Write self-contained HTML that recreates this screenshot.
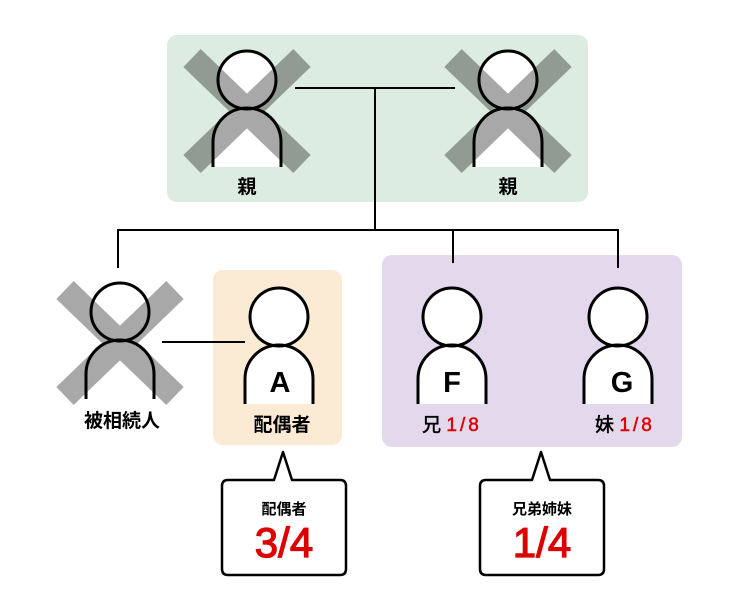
<!DOCTYPE html>
<html><head><meta charset="utf-8"><style>
body{margin:0;background:#fff;}
svg{display:block;font-family:"Liberation Sans","Noto Sans CJK JP",sans-serif;}
</style></head><body>
<svg width="750" height="602" viewBox="0 0 750 602" xmlns="http://www.w3.org/2000/svg">
<defs>
<g id="fig">
<circle cx="0" cy="2" r="29" fill="#fff"/>
<path d="M-34,89 V64 A34,34 0 0 1 34,64 V89 Z" fill="#fff"/>
</g>
<g id="figl" fill="none" stroke="#000" stroke-width="3">
<circle cx="0" cy="2" r="29"/>
<path d="M-34,89 V64 A34,34 0 0 1 34,64 V89"/>
</g>
<g id="x"><path d="M-55,-20 L55,86 M55,-20 L-55,86" stroke="rgba(0,0,0,0.34)" stroke-width="25"/></g>
</defs>
<rect x="167" y="35" width="421" height="167" rx="10" fill="#dcece0"/>
<rect x="213" y="270" width="129" height="175" rx="10" fill="#fbebd5"/>
<rect x="382" y="255" width="300" height="192" rx="10" fill="#e4d8ec"/>
<g stroke="#000" stroke-width="2" fill="none">
<path d="M295,88 H455 M375,88 V230 M118,268 V230 H618 V268 M453,230 V263 M162,342 H245"/>
</g>
<g transform="translate(247,78)"><use href="#fig"/><use href="#x"/><use href="#figl"/></g>
<g transform="translate(508,78)"><use href="#fig"/><use href="#x"/><use href="#figl"/></g>
<g transform="translate(120,310)"><use href="#fig"/><use href="#x"/><use href="#figl"/></g>
<g transform="translate(279,315)"><use href="#fig"/><use href="#figl"/></g>
<g transform="translate(452,315)"><use href="#fig"/><use href="#figl"/></g>
<g transform="translate(618,315)"><use href="#fig"/><use href="#figl"/></g>
<g font-size="19" font-weight="bold" text-anchor="middle">
<text x="247" y="193">親</text>
<text x="508" y="193">親</text>
<text x="122" y="427">被相続人</text>
<text x="282" y="431">配偶者</text>
<text x="280" y="392" font-size="29">A</text>
<text x="452" y="392" font-size="29">F</text>
<text x="622" y="392" font-size="29">G</text>
<text x="452" y="431" font-weight="normal" stroke="#000" stroke-width="0.5">兄 <tspan fill="#d00" stroke="#d00" letter-spacing="3">1/8</tspan></text>
<text x="625" y="431" font-weight="normal" stroke="#000" stroke-width="0.5">妹 <tspan fill="#d00" stroke="#d00" letter-spacing="3">1/8</tspan></text>
</g>
<g fill="#fff" stroke="#000" stroke-width="2.5" stroke-linejoin="round">
<path d="M228,480 H274 L283,452 L292,480 H340 Q346,480 346,486 V569 Q346,575 340,575 H228 Q222,575 222,569 V486 Q222,480 228,480 Z"/>
<path d="M486,480 H532 L541,452 L550,480 H598 Q604,480 604,486 V569 Q604,575 598,575 H486 Q480,575 480,569 V486 Q480,480 486,480 Z"/>
</g>
<g text-anchor="middle" font-weight="bold">
<text x="284" y="514" font-size="15">配偶者</text>
<text x="542" y="514" font-size="15">兄弟姉妹</text>
<text x="284" y="557" font-size="42" fill="#d00" font-weight="normal" stroke="#d00" stroke-width="1.2">3/4</text>
<text x="542" y="557" font-size="42" fill="#d00" font-weight="normal" stroke="#d00" stroke-width="1.2">1/4</text>
</g>
</svg>
</body></html>
